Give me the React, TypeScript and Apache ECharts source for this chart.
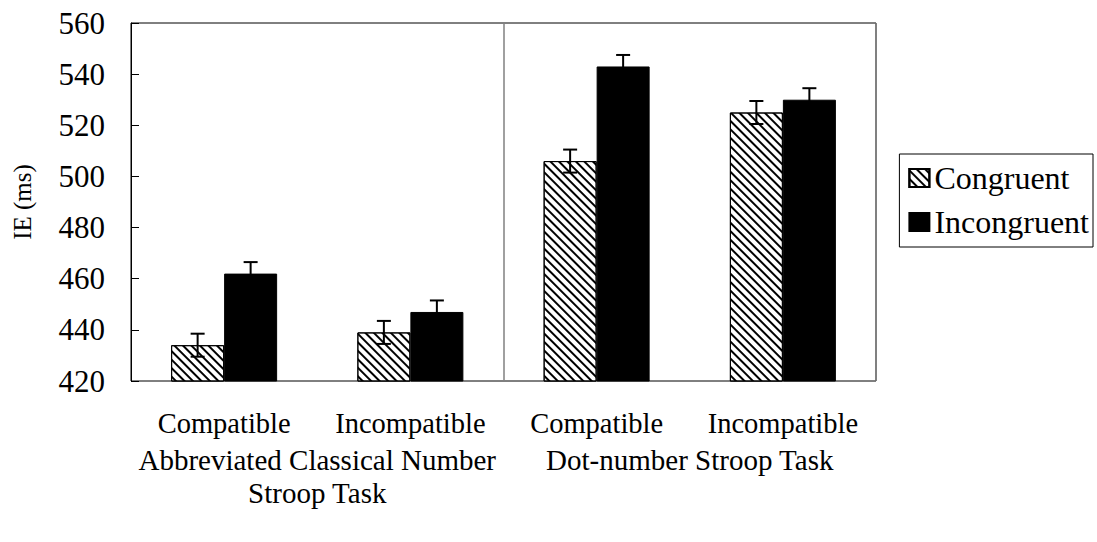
import React, { useEffect, useRef } from "react";
import * as echarts from "echarts";

const categories = ["Compatible", "Incompatible", "Compatible", "Incompatible"];
const groups = ["Abbreviated Classical Number\nStroop Task", "Dot-number Stroop Task"];
const congruent = [434, 439, 506, 525];
const incongruent = [462, 447, 543, 530];
const congruentErr = [4.5, 4.5, 4.5, 4.5];
const incongruentErr = [4.5, 4.5, 4.5, 4.5];
const yTicks = { min: 420, max: 560, interval: 20 };

const FONT = "Liberation Serif";
const BAR_W = 53;

function errorSeries(name: string, vals: number[], errs: number[], dir: number) {
  return {
    type: "custom",
    name: name + "-err",
    xAxisIndex: 0,
    yAxisIndex: 0,
    z: 10,
    silent: true,
    data: vals.map((v, i) => [i, v, errs[i]]),
    renderItem: (params: any, api: any) => {
      const i = api.value(0);
      const v = api.value(1);
      const e = api.value(2);
      const hi = api.coord([i, v + e]);
      const lo = api.coord([i, v - e]);
      const x = hi[0] + (dir * BAR_W) / 2;
      const cap = 7;
      const style = { stroke: "#000", lineWidth: 2 };
      return {
        type: "group",
        children: [
          { type: "line", shape: { x1: x, y1: hi[1], x2: x, y2: lo[1] }, style },
          { type: "line", shape: { x1: x - cap, y1: hi[1], x2: x + cap, y2: hi[1] }, style },
          { type: "line", shape: { x1: x - cap, y1: lo[1], x2: x + cap, y2: lo[1] }, style },
        ],
      };
    },
  };
}

export default function App() {
  const ref = useRef<HTMLDivElement>(null);
  useEffect(() => {
    const chart = echarts.init(ref.current!, null, { renderer: "svg" });
    chart.setOption({
      animation: false,
      textStyle: { fontFamily: FONT, color: "#000" },
      grid: {
        left: 131,
        right: 221,
        top: 23,
        bottom: 161,
        show: true,
        borderColor: "#000",
        borderWidth: 1,
        containLabel: false,
      },
      legend: {
        orient: "vertical",
        right: 4,
        top: 154,
        data: ["Congruent", "Incongruent"],
        icon: "rect",
        itemWidth: 20,
        itemHeight: 18,
        itemGap: 12,
        padding: [8, 4, 9, 9],
        borderColor: "#000",
        borderWidth: 1,
        textStyle: { fontFamily: FONT, fontSize: 32, color: "#000" },
      },
      xAxis: [
        {
          type: "category",
          data: categories,
          axisLine: { show: false },
          axisTick: { show: false },
          axisLabel: { fontFamily: FONT, fontSize: 28.5, color: "#000", margin: 28, interval: 0 },
        },
        {
          type: "category",
          data: groups,
          position: "bottom",
          offset: 0,
          axisLine: { show: false },
          axisTick: { show: false },
          axisLabel: {
            fontFamily: FONT,
            fontSize: 29,
            color: "#000",
            margin: 62,
            lineHeight: 33,
            verticalAlign: "top",
            interval: 0,
          },
          splitLine: { show: true, interval: 0, lineStyle: { color: "#808080", width: 1.5 } },
        },
      ],
      yAxis: {
        type: "value",
        min: yTicks.min,
        max: yTicks.max,
        interval: yTicks.interval,
        name: "IE (ms)",
        nameLocation: "middle",
        nameGap: 96,
        nameTextStyle: { fontFamily: FONT, fontSize: 25, color: "#000" },
        axisLine: { show: true, lineStyle: { color: "#000" } },
        axisTick: { show: true, inside: true, length: 8, lineStyle: { color: "#000" } },
        axisLabel: { fontFamily: FONT, fontSize: 31, color: "#000", margin: 26 },
        splitLine: { show: false },
      },
      series: [
        {
          type: "bar",
          name: "Congruent",
          data: congruent,
          barWidth: BAR_W,
          barGap: "0%",
          itemStyle: {
            color: "#fff",
            borderColor: "#000",
            borderWidth: 1,
            decal: {
              symbol: "rect",
              color: "#000",
              backgroundColor: "#fff",
              dashArrayX: [1, 0],
              dashArrayY: [2, 4],
              rotation: Math.PI / 4,
            },
          },
        },
        {
          type: "bar",
          name: "Incongruent",
          data: incongruent,
          barWidth: BAR_W,
          barGap: "0%",
          itemStyle: { color: "#000", borderColor: "#000", borderWidth: 1 },
        },
        errorSeries("Congruent", congruent, congruentErr, -1),
        errorSeries("Incongruent", incongruent, incongruentErr, 1),
      ],
    });
    return () => chart.dispose();
  }, []);
  return (
    <div
      ref={ref}
      style={{ position: "fixed", left: 0, top: 0, width: 1097, height: 542, background: "#fff" }}
    />
  );
}
